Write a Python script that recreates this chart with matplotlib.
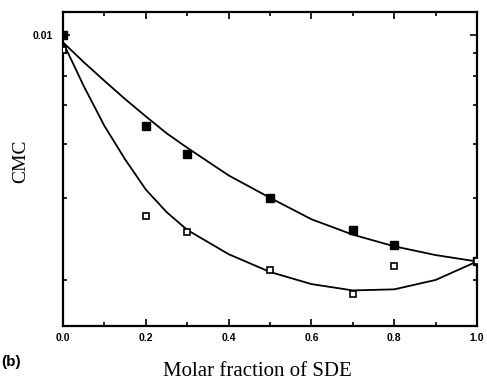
import numpy as np
import matplotlib
matplotlib.use("Agg")
import matplotlib.pyplot as plt
from matplotlib.ticker import FixedLocator, FixedFormatter

# measured points (molar fraction of SDE vs CMC)
x_frac = [0.0, 0.2, 0.3, 0.5, 0.7, 0.8, 1.0]
cmc_filled = [0.0100, 0.00642, 0.00579, 0.00501, 0.00456, 0.00438, 0.00419]
cmc_open = [0.00916, 0.00475, 0.00453, 0.00410, 0.00387, 0.00414, 0.00419]

# fitted curves
curve_x = [0.0, 0.05, 0.1, 0.15, 0.2, 0.25, 0.3, 0.4, 0.5, 0.6, 0.7, 0.8, 0.9, 1.0]
curve_upper = [0.00959, 0.00859, 0.00782, 0.00719, 0.00668, 0.00625, 0.00592,
               0.00538, 0.00501, 0.00470, 0.00450, 0.00436, 0.00426, 0.00419]
curve_lower = [0.00959, 0.00763, 0.00643, 0.00568, 0.00514, 0.00480, 0.00456,
               0.00427, 0.00408, 0.00396, 0.00390, 0.00391, 0.00400, 0.00419]

x_major = [0.0, 0.2, 0.4, 0.6, 0.8, 1.0]
x_major_labels = ["0.0", "0.2", "0.4", "0.6", "0.8", "1.0"]
x_minor = [0.1, 0.3, 0.5, 0.7, 0.9]
y_major = [0.01]
y_major_labels = ["0.01"]
y_minor = [0.004, 0.005, 0.006, 0.007, 0.008, 0.009]


def recip_fwd(c):
    c = np.asarray(c, dtype=float)
    with np.errstate(divide="ignore", invalid="ignore"):
        return np.where(c > 0, -1.0 / np.where(c > 0, c, 1.0), -1e9)


def recip_inv(v):
    v = np.asarray(v, dtype=float)
    with np.errstate(divide="ignore", invalid="ignore"):
        return np.where(v < 0, -1.0 / np.where(v < 0, v, -1.0), 1e9)


fig = plt.figure(figsize=(4.87, 3.84), dpi=100)
ax = fig.add_axes([0.1294, 0.151, 0.8501, 0.818])

ax.plot(curve_x, curve_upper, color="black", lw=1.3)
ax.plot(curve_x, curve_lower, color="black", lw=1.3)
ax.plot(x_frac, cmc_filled, ls="none", marker="s", ms=5.5,
        mfc="black", mec="black", zorder=3)
ax.plot(x_frac, cmc_open, ls="none", marker="s", ms=4.5,
        mfc="white", mec="black", mew=1.2, zorder=3)

ax.set_yscale("function", functions=(recip_fwd, recip_inv))
ax.set_xlim(0.0, 1.0)
ax.set_ylim(0.003594, 0.01168)

tick_font = {"family": "Liberation Sans", "weight": "bold", "size": 7.5}
ax.xaxis.set_major_locator(FixedLocator(x_major))
ax.xaxis.set_major_formatter(FixedFormatter(x_major_labels))
ax.xaxis.set_minor_locator(FixedLocator(x_minor))
ax.yaxis.set_major_locator(FixedLocator(y_major))
ax.yaxis.set_major_formatter(FixedFormatter(y_major_labels))
ax.yaxis.set_minor_locator(FixedLocator(y_minor))
ax.yaxis.set_minor_formatter(FixedFormatter([""] * len(y_minor)))

ax.tick_params(which="both", direction="in", top=True, right=True, width=1.2)
ax.tick_params(which="major", length=5)
ax.tick_params(axis="x", which="major", pad=5)
ax.tick_params(axis="y", which="major", pad=7)
ax.tick_params(which="minor", length=3)
for lab in ax.get_xticklabels() + ax.get_yticklabels():
    lab.set_fontproperties(tick_font)

for spine in ax.spines.values():
    spine.set_linewidth(1.6)

fig.text(21 / 487, 1 - 161 / 384, "CMC", family="Liberation Serif",
         fontsize=14, rotation=90, ha="center", va="center")
fig.text(257 / 487, 0.02, "Molar fraction of SDE", family="Liberation Serif",
         fontsize=15, ha="center", va="baseline")
fig.text(1 / 487, 1 - 362 / 384, "(b)", family="Liberation Sans", weight="bold",
         fontsize=11, ha="left", va="center")

fig.savefig("out.png", dpi=100)
